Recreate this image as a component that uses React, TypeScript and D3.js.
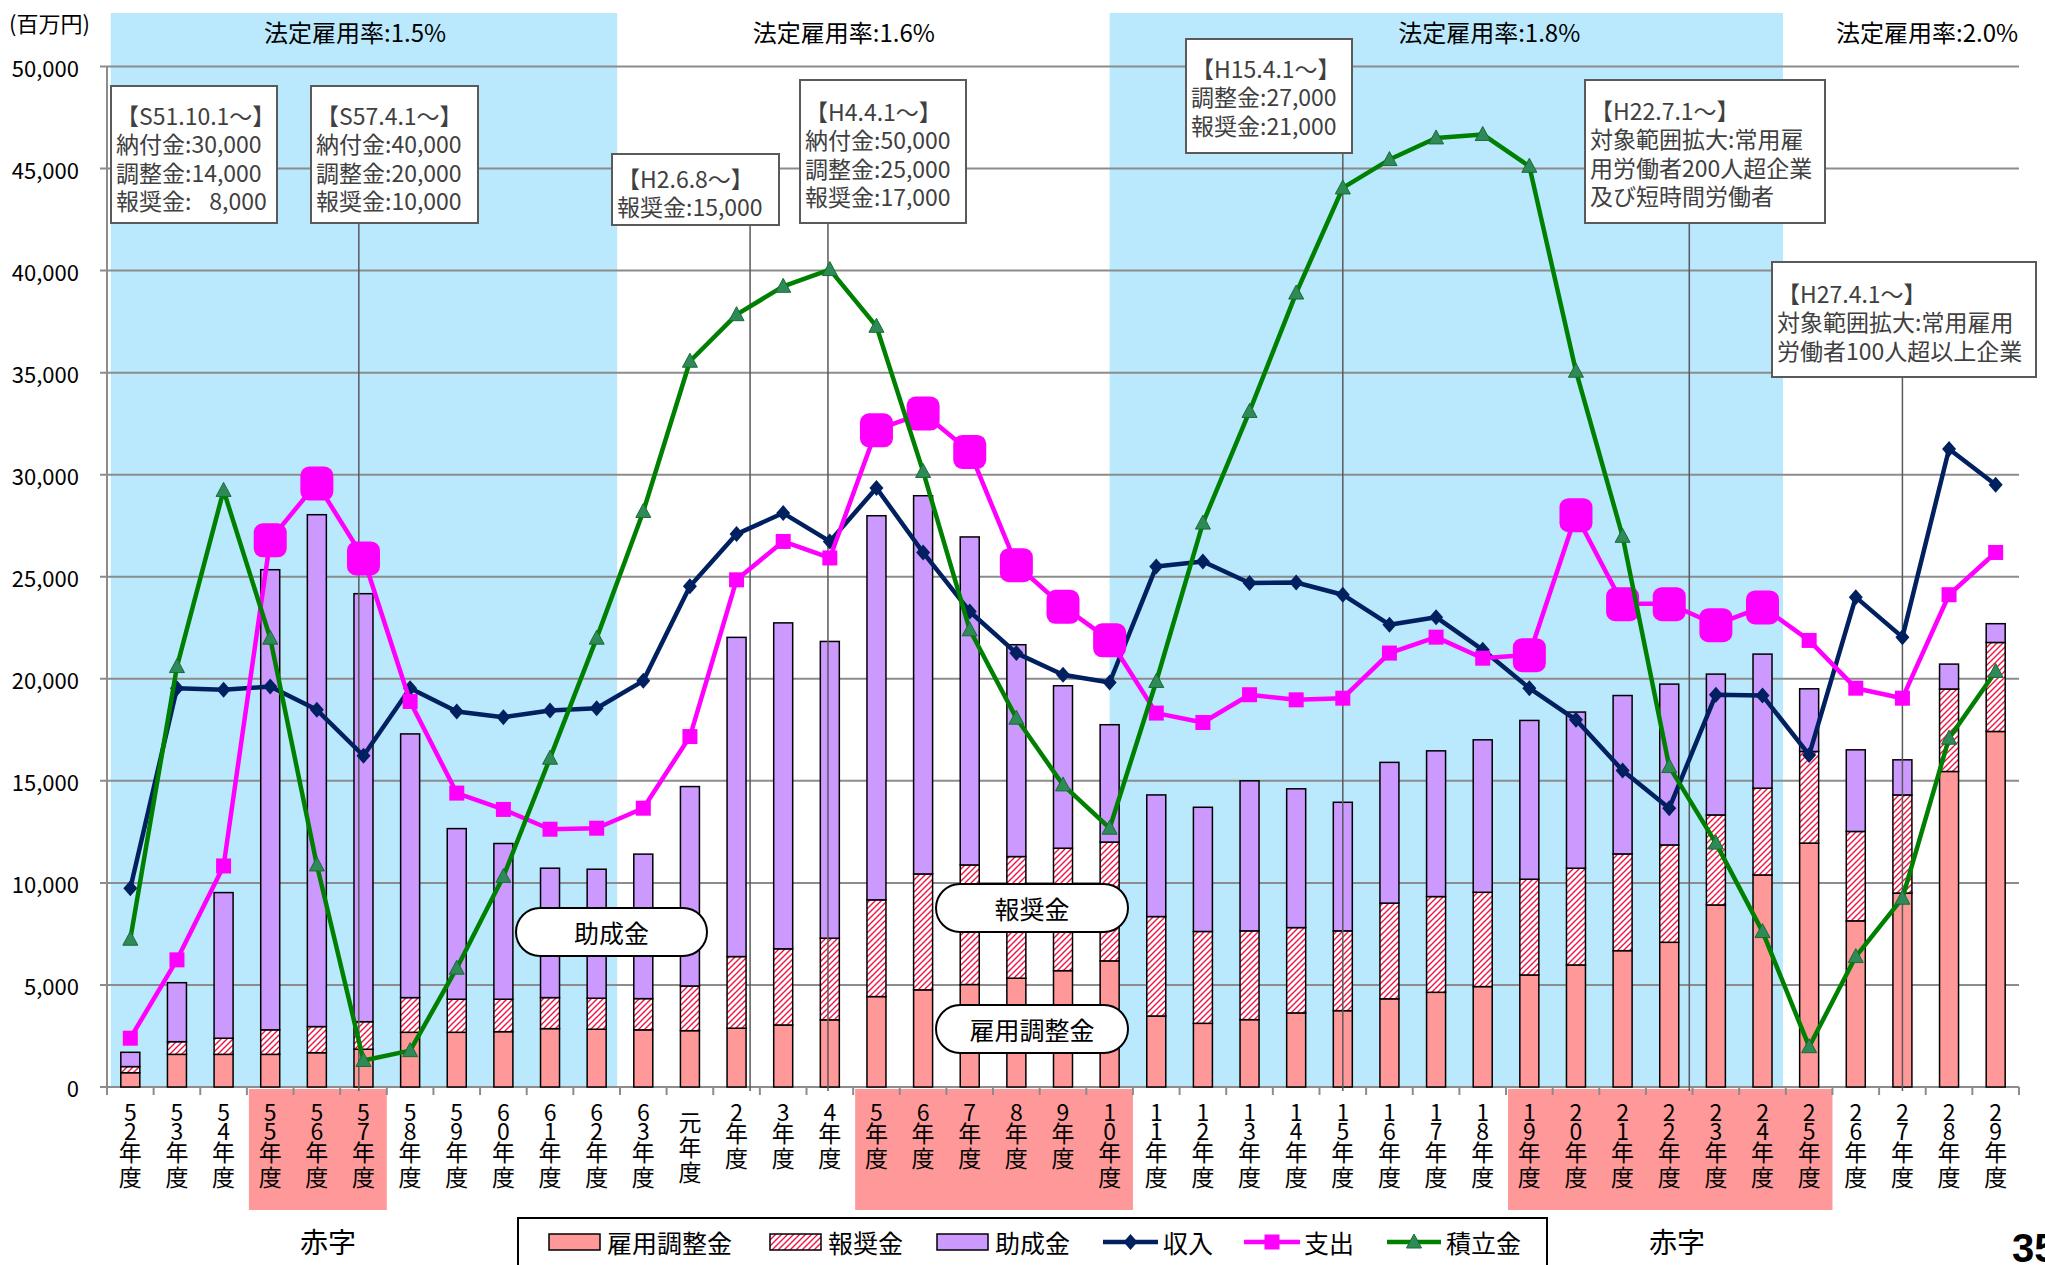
import { useEffect, useRef } from 'react';
import * as d3 from 'd3';

const years = ['52', '53', '54', '55', '56', '57', '58', '59', '60', '61', '62', '63', '元', '2', '3', '4', '5', '6', '7', '8', '9', '10', '11', '12', '13', '14', '15', '16', '17', '18', '19', '20', '21', '22', '23', '24', '25', '26', '27', '28', '29'];

// 百万円
const koyouChousei = [700, 1600, 1600, 1600, 1680, 1850, 2680, 2680, 2710, 2860, 2830, 2800, 2760, 2880, 3040, 3290, 4430, 4760, 5020, 5330, 5700, 6180, 3480, 3120, 3300, 3630, 3740, 4320, 4640, 4920, 5490, 5980, 6680, 7090, 8920, 10390, 11950, 8140, 9500, 15460, 17420];
const houshoukin = [300, 620, 790, 1200, 1280, 1350, 1700, 1620, 1590, 1520, 1520, 1530, 2190, 3510, 3730, 4000, 4740, 5680, 5860, 5960, 6000, 5820, 4870, 4500, 4350, 4180, 3910, 4690, 4690, 4620, 4690, 4740, 4740, 4770, 4410, 4250, 4490, 4380, 4810, 4040, 4360];
const joseikin = [700, 2890, 7135, 22545, 25080, 20970, 12920, 8360, 7630, 6340, 6320, 7080, 9770, 15640, 15970, 14540, 18820, 18530, 16070, 10380, 7960, 5750, 5960, 6085, 7350, 6800, 6300, 6895, 7140, 7470, 7780, 7650, 7760, 7880, 6900, 6570, 3070, 4000, 1720, 1220, 920];
const shunyu = [9740, 19540, 19460, 19620, 18480, 16230, 19540, 18400, 18120, 18450, 18560, 19900, 24540, 27090, 28120, 26730, 29350, 26190, 23300, 21260, 20200, 19820, 25500, 25750, 24690, 24720, 24120, 22650, 23020, 21420, 19540, 17990, 15510, 13660, 19220, 19180, 16270, 24000, 22040, 31260, 29510];
const shishutsu = [2390, 6230, 10830, 26810, 29590, 25920, 18890, 14400, 13600, 12630, 12680, 13660, 17170, 24850, 26730, 25920, 32200, 33020, 31140, 25590, 23550, 21910, 18320, 17860, 19220, 18970, 19050, 21260, 22040, 21010, 21180, 28040, 23680, 23680, 22650, 23520, 21880, 19540, 19050, 24120, 26190];
const tsumitate = [7240, 20600, 29230, 21990, 10880, 1300, 1780, 5820, 10310, 16110, 21990, 28200, 35560, 37840, 39230, 40050, 37270, 30160, 22400, 18070, 14800, 12680, 19870, 27630, 33100, 38900, 44050, 45440, 46500, 46670, 45110, 35070, 26980, 15700, 11950, 7615, 1975, 6390, 9250, 17090, 20360];

const bigMarkerYears = ['55', '56', '57', '5', '6', '7', '8', '9', '10', '19', '20', '21', '22', '23', '24'];
const deficitRanges = [['55', '57'], ['5', '10'], ['19', '25']];
const yTicks = [0, 5000, 10000, 15000, 20000, 25000, 30000, 35000, 40000, 45000, 50000];

const rateBands = [
  { from: '52', fromOff: 0.08, to: '62', toOff: 0.94 },
  { from: '10', fromOff: 0.5, to: '24', toOff: 0.94 },
];
const rateLabels = [
  { text: '法定雇用率:1.5%', at: '57', off: 0.32 },
  { text: '法定雇用率:1.6%', at: '4', off: 0.8 },
  { text: '法定雇用率:1.8%', at: '18', off: 0.64 },
  { text: '法定雇用率:2.0%', at: '28', off: 0.03 },
];

const notes = [
  { x: 111, y: 86, w: 166, h: 137, pad: 29, lines: ['【S51.10.1～】', '納付金:30,000', '調整金:14,000', '報奨金:\u2007 8,000'], at: null, off: 0 },
  { x: 311, y: 86, w: 167, h: 137, pad: 29, lines: ['【S57.4.1～】', '納付金:40,000', '調整金:20,000', '報奨金:10,000'], at: '57', off: 0.4 },
  { x: 612, y: 154, w: 167, h: 71, pad: 24, lines: ['【H2.6.8～】', '報奨金:15,000'], at: '2', off: 0.79 },
  { x: 800, y: 80, w: 166, h: 143, pad: 31, lines: ['【H4.4.1～】', '納付金:50,000', '調整金:25,000', '報奨金:17,000'], at: '4', off: 0.46 },
  { x: 1186, y: 39, w: 166, h: 114, pad: 29, lines: ['【H15.4.1～】', '調整金:27,000', '報奨金:21,000'], at: '15', off: 0.5 },
  { x: 1585, y: 80, w: 240, h: 143, pad: 30, lines: ['【H22.7.1～】', '対象範囲拡大:常用雇', '用労働者200人超企業', '及び短時間労働者'], at: '22', off: 0.93 },
  { x: 1772, y: 262, w: 264, h: 115, pad: 31, lines: ['【H27.4.1～】', '対象範囲拡大:常用雇用', '労働者100人超以上企業'], at: '27', off: 0.5 },
];

const pills = [
  { text: '助成金', x: 516, y: 908, w: 191, h: 48 },
  { text: '報奨金', x: 936, y: 884, w: 192, h: 48 },
  { text: '雇用調整金', x: 936, y: 1005, w: 192, h: 48 },
];

const JP = '"Noto Sans CJK JP", "Noto Sans", sans-serif';
const W = 2045;
const H = 1265;
const plot = { left: 107, right: 2019, top: 66.5, bottom: 1087 };

const NAVY = '#002060';
const MAGENTA = '#ff00ff';
const GREEN = '#008000';
const TRI_FILL = '#2e8b57';
const diamond = 'M0,-8 L7,0 L0,8 L-7,0 Z';
const triangle = 'M0,-8 L7.5,6 L-7.5,6 Z';

const App = () => {
  const svgRef = useRef<SVGSVGElement>(null);

  useEffect(() => {
    if (!svgRef.current) return;
    const svg = d3.select(svgRef.current);
    svg.selectAll('*').remove();

    const x = d3.scaleBand<string>().domain(years).range([plot.left, plot.right]);
    const y = d3.scaleLinear().domain([0, 50000]).range([plot.bottom, plot.top]);
    const bw = x.bandwidth();
    const cx = (k: string) => (x(k) as number) + bw / 2;
    const barW = 19;

    const defs = svg.append('defs');
    const pat = defs
      .append('pattern')
      .attr('id', 'hatch')
      .attr('patternUnits', 'userSpaceOnUse')
      .attr('width', 6)
      .attr('height', 6);
    pat.append('rect').attr('width', 6).attr('height', 6).attr('fill', '#fff');
    pat
      .append('path')
      .attr('d', 'M-1,1 L1,-1 M0,6 L6,0 M5,7 L7,5')
      .attr('stroke', '#ee1144')
      .attr('stroke-width', 1.4);

    // background bands for each legal rate period
    rateBands.forEach((b) => {
      const x0 = (x(b.from) as number) + bw * b.fromOff;
      const x1 = (x(b.to) as number) + bw * b.toOff;
      svg.append('rect')
        .attr('x', x0)
        .attr('y', 13)
        .attr('width', x1 - x0)
        .attr('height', plot.bottom - 13)
        .attr('fill', '#bae8fc');
    });

    rateLabels.forEach((l) => {
      svg.append('text')
        .attr('x', (x(l.at) as number) + bw * l.off)
        .attr('y', 31)
        .attr('text-anchor', 'middle')
        .attr('dominant-baseline', 'central')
        .attr('font-family', JP)
        .attr('font-size', 24)
        .attr('fill', '#000')
        .text(l.text);
    });

    // deficit boxes under the axis
    deficitRanges.forEach(([a, b]) => {
      const x0 = x(a) as number;
      const x1 = (x(b) as number) + bw;
      svg.append('rect')
        .attr('x', x0 + 2)
        .attr('y', plot.bottom + 2)
        .attr('width', x1 - x0 - 2)
        .attr('height', 121)
        .attr('fill', '#ff9999');
    });

    // grid
    yTicks.forEach((t) => {
      svg.append('line')
        .attr('x1', plot.left - 7)
        .attr('x2', plot.right)
        .attr('y1', y(t))
        .attr('y2', y(t))
        .attr('stroke', '#8c8c8c')
        .attr('stroke-width', 2);
      svg.append('text')
        .attr('x', 79)
        .attr('y', y(t))
        .attr('text-anchor', 'end')
        .attr('dominant-baseline', 'central')
        .attr('font-family', JP)
        .attr('font-size', 22)
        .attr('fill', '#000')
        .text(d3.format(',')(t));
    });
    svg.append('line')
      .attr('x1', plot.left)
      .attr('x2', plot.left)
      .attr('y1', plot.top)
      .attr('y2', plot.bottom)
      .attr('stroke', '#8c8c8c')
      .attr('stroke-width', 2);
    d3.range(years.length + 1).forEach((i) => {
      const xx = plot.left + i * bw;
      svg.append('line')
        .attr('x1', xx)
        .attr('x2', xx)
        .attr('y1', plot.bottom)
        .attr('y2', plot.bottom + 8)
        .attr('stroke', '#8c8c8c')
        .attr('stroke-width', 2);
    });

    svg.append('text')
      .attr('x', 9)
      .attr('y', 22)
      .attr('dominant-baseline', 'central')
      .attr('font-family', JP)
      .attr('font-size', 22)
      .text('(百万円)');

    // x labels, one character per line
    const isDigit = (c: string) => /[0-9]/.test(c);
    years.forEach((yr) => {
      const chars = (yr + '年度').split('');
      const t = svg.append('text')
        .attr('text-anchor', 'middle')
        .attr('font-family', JP)
        .attr('font-size', 23)
        .attr('fill', '#000');
      let yy = isDigit(chars[0]) ? 1113 : 1123;
      chars.forEach((c, i) => {
        t.append('tspan')
          .attr('x', cx(yr))
          .attr('y', yy + 8)
          .text(c);
        const next = chars[i + 1];
        if (next) yy += isDigit(c) ? (isDigit(next) ? 19 : 21) : 25;
      });
    });

    // stacked bars
    const rows = years.map((yr, i) => ({ year: yr, koyou: koyouChousei[i], housho: houshoukin[i], josei: joseikin[i] }));
    const stack = d3.stack<any>().keys(['koyou', 'housho', 'josei'])(rows);
    const fills = ['#ff9999', 'url(#hatch)', '#cc99ff'];
    stack.forEach((layer, li) => {
      svg.append('g')
        .selectAll('rect')
        .data(layer)
        .join('rect')
        .attr('x', (d: any) => cx(d.data.year) - barW / 2)
        .attr('y', (d: any) => y(d[1]))
        .attr('width', barW)
        .attr('height', (d: any) => y(d[0]) - y(d[1]))
        .attr('fill', fills[li])
        .attr('stroke', '#000')
        .attr('stroke-width', 1.5);
    });

    // leader lines
    notes.forEach((n) => {
      if (!n.at) return;
      const lx = (x(n.at) as number) + bw * n.off;
      svg.append('line')
        .attr('x1', lx)
        .attr('x2', lx)
        .attr('y1', n.y + n.h)
        .attr('y2', plot.bottom + 4)
        .attr('stroke', '#5a5a5a')
        .attr('stroke-width', 1.5);
    });

    // pills
    pills.forEach((p) => {
      svg.append('rect')
        .attr('x', p.x)
        .attr('y', p.y)
        .attr('width', p.w)
        .attr('height', p.h)
        .attr('rx', p.h / 2)
        .attr('fill', '#fff')
        .attr('stroke', '#000')
        .attr('stroke-width', 2);
      svg.append('text')
        .attr('x', p.x + p.w / 2)
        .attr('y', p.y + p.h / 2)
        .attr('text-anchor', 'middle')
        .attr('dominant-baseline', 'central')
        .attr('font-family', JP)
        .attr('font-size', 25)
        .text(p.text);
    });

    // lines
    const line = d3
      .line<number>()
      .x((_, i) => cx(years[i]))
      .y((d) => y(d));

    svg.append('path')
      .attr('d', line(shunyu))
      .attr('fill', 'none')
      .attr('stroke', NAVY)
      .attr('stroke-width', 4.5)
      .attr('stroke-linejoin', 'round');
    svg.append('g')
      .selectAll('path')
      .data(shunyu)
      .join('path')
      .attr('d', diamond)
      .attr('transform', (d, i) => `translate(${cx(years[i])},${y(d)})`)
      .attr('fill', NAVY);

    svg.append('path')
      .attr('d', line(shishutsu))
      .attr('fill', 'none')
      .attr('stroke', MAGENTA)
      .attr('stroke-width', 4.5)
      .attr('stroke-linejoin', 'round');
    svg.append('g')
      .selectAll('rect')
      .data(shishutsu)
      .join('rect')
      .each(function (d, i) {
        const big = bigMarkerYears.includes(years[i]);
        const s = big ? 33 : 15;
        d3.select(this)
          .attr('x', cx(years[i]) - s / 2)
          .attr('y', y(d) - s / 2)
          .attr('width', s)
          .attr('height', s + (big ? 1 : 0))
          .attr('rx', big ? 9 : 0)
          .attr('fill', MAGENTA);
      });

    svg.append('path')
      .attr('d', line(tsumitate))
      .attr('fill', 'none')
      .attr('stroke', GREEN)
      .attr('stroke-width', 4.5)
      .attr('stroke-linejoin', 'round');
    svg.append('g')
      .selectAll('path')
      .data(tsumitate)
      .join('path')
      .attr('d', triangle)
      .attr('transform', (d, i) => `translate(${cx(years[i])},${y(d)})`)
      .attr('fill', TRI_FILL)
      .attr('stroke', '#1a6b35')
      .attr('stroke-width', 1);

    // annotation boxes
    notes.forEach((n) => {
      const g = svg.append('g');
      g.append('rect')
        .attr('x', n.x)
        .attr('y', n.y)
        .attr('width', n.w)
        .attr('height', n.h)
        .attr('fill', '#fff')
        .attr('stroke', '#5a5a5a')
        .attr('stroke-width', 2);
      n.lines.forEach((t, i) => {
        g.append('text')
          .attr('x', n.x + 5)
          .attr('y', n.y + n.pad + i * 28.3)
          .attr('dominant-baseline', 'central')
          .attr('font-family', JP)
          .attr('font-size', 23)
          .attr('fill', '#404040')
          .text(t);
      });
    });

    // 赤字 labels
    [
      { x: 328, t: '赤字' },
      { x: 1677, t: '赤字' },
    ].forEach((d) => {
      svg.append('text')
        .attr('x', d.x)
        .attr('y', 1241)
        .attr('text-anchor', 'middle')
        .attr('dominant-baseline', 'central')
        .attr('font-family', JP)
        .attr('font-size', 28)
        .text(d.t);
    });

    // legend
    const lg = svg.append('g');
    lg.append('rect')
      .attr('x', 518)
      .attr('y', 1218)
      .attr('width', 1029)
      .attr('height', 70)
      .attr('fill', '#fff')
      .attr('stroke', '#000')
      .attr('stroke-width', 2);
    const ly = 1242;
    const swatches = [
      { x: 549, fill: '#ff9999', label: '雇用調整金', tx: 607 },
      { x: 770, fill: 'url(#hatch)', label: '報奨金', tx: 828 },
      { x: 937, fill: '#cc99ff', label: '助成金', tx: 995 },
    ];
    swatches.forEach((s) => {
      lg.append('rect')
        .attr('x', s.x)
        .attr('y', ly - 8)
        .attr('width', 51)
        .attr('height', 16)
        .attr('fill', s.fill)
        .attr('stroke', '#000')
        .attr('stroke-width', 1.5);
      lg.append('text')
        .attr('x', s.tx)
        .attr('y', ly)
        .attr('dominant-baseline', 'central')
        .attr('font-family', JP)
        .attr('font-size', 25)
        .text(s.label);
    });
    const lineItems = [
      { x0: 1103, x1: 1158, color: NAVY, mark: 'diamond', label: '収入', tx: 1163 },
      { x0: 1244, x1: 1300, color: MAGENTA, mark: 'square', label: '支出', tx: 1304 },
      { x0: 1387, x1: 1441, color: GREEN, mark: 'triangle', label: '積立金', tx: 1446 },
    ];
    lineItems.forEach((l) => {
      lg.append('line')
        .attr('x1', l.x0)
        .attr('x2', l.x1)
        .attr('y1', ly)
        .attr('y2', ly)
        .attr('stroke', l.color)
        .attr('stroke-width', 4.5);
      const mx = (l.x0 + l.x1) / 2;
      if (l.mark === 'square') {
        lg.append('rect').attr('x', mx - 7.5).attr('y', ly - 7.5).attr('width', 15).attr('height', 15).attr('fill', l.color);
      } else {
        lg.append('path')
          .attr('d', l.mark === 'diamond' ? diamond : triangle)
          .attr('transform', `translate(${mx},${ly})`)
          .attr('fill', l.mark === 'diamond' ? l.color : TRI_FILL)
          .attr('stroke', l.mark === 'diamond' ? 'none' : '#1a6b35');
      }
      lg.append('text')
        .attr('x', l.tx)
        .attr('y', ly)
        .attr('dominant-baseline', 'central')
        .attr('font-family', JP)
        .attr('font-size', 25)
        .text(l.label);
    });

    svg.append('text')
      .attr('x', 2012)
      .attr('y', 1262)
      .attr('font-family', '"Liberation Sans", Arial, sans-serif')
      .attr('font-weight', 'bold')
      .attr('font-size', 40)
      .text('35');
  }, []);

  return (
    <svg
      ref={svgRef}
      width={W}
      height={H}
      style={{ position: 'absolute', left: 0, top: 0, display: 'block', background: '#fff' }}
    />
  );
};

export default App;
